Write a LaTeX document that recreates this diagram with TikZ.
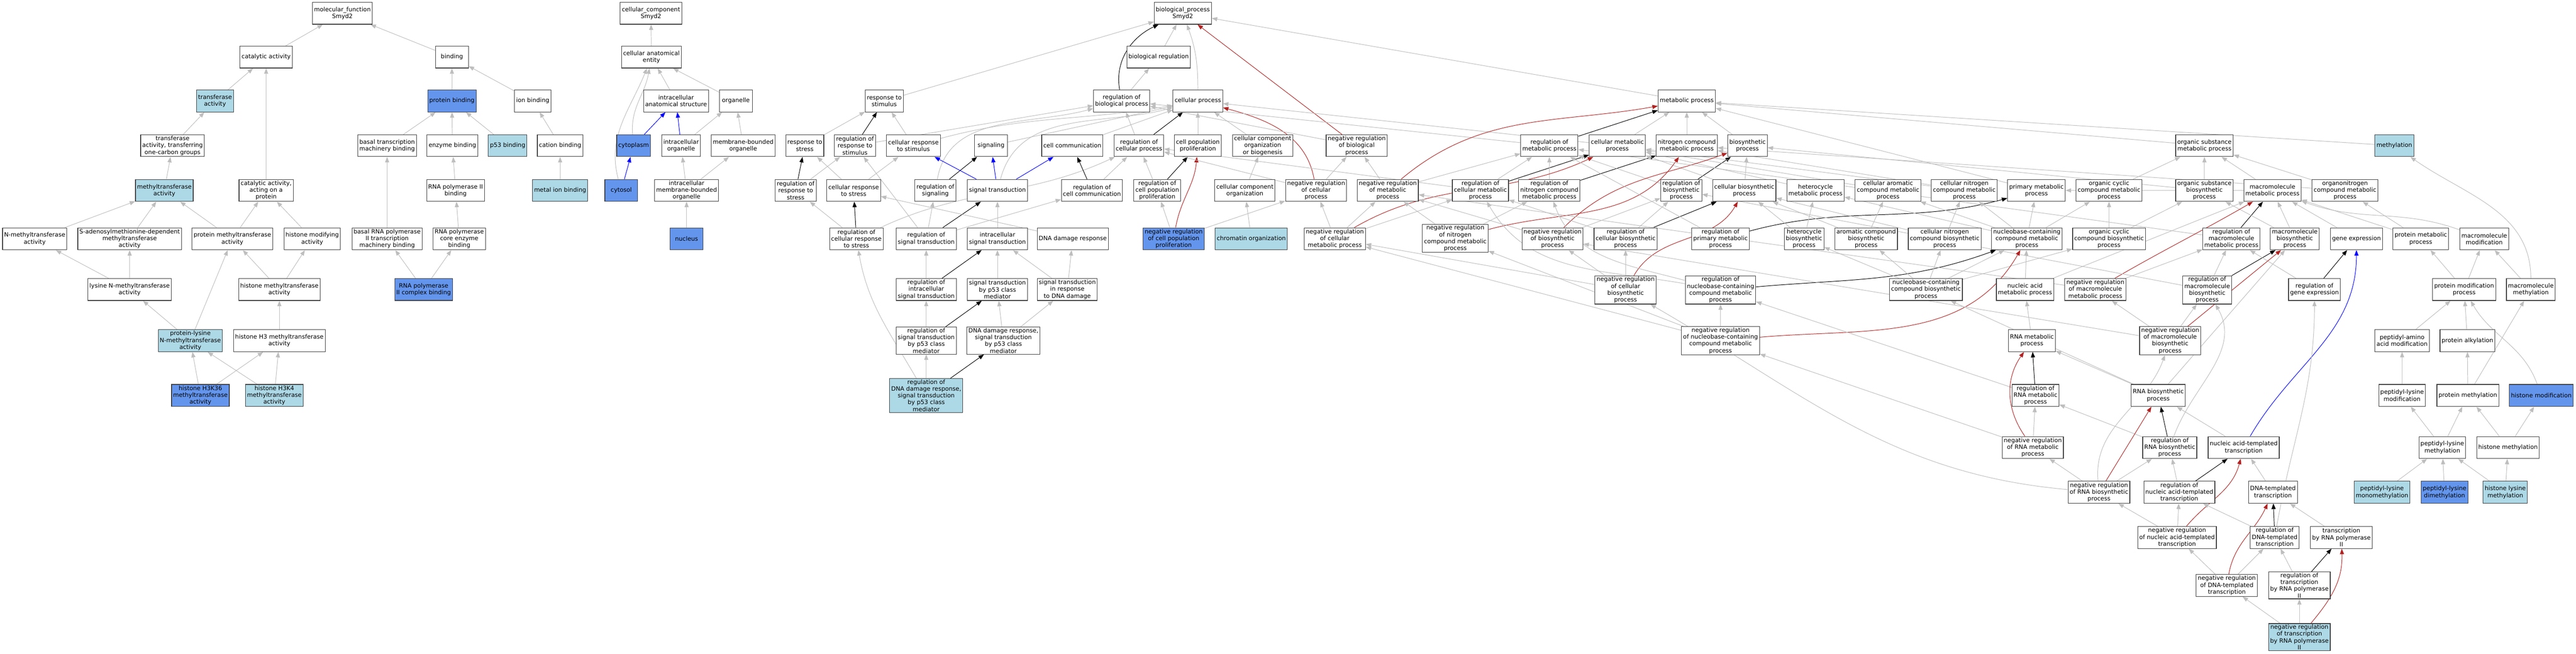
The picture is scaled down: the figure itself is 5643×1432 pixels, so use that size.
\documentclass[tikz,border=0pt]{standalone}
\usepackage{fontspec}
\setmainfont{DejaVu Sans}
\usetikzlibrary{arrows.meta, positioning, backgrounds}
\definecolor{Hit}{RGB}{100, 149, 237}
\definecolor{Near}{RGB}{173, 216, 230}
\definecolor{EdgeGray}{RGB}{190, 190, 190}
\definecolor{NegReg}{RGB}{178, 34, 34}

\begin{document}
\begin{tikzpicture}[x=1pt, y=1pt,
    gobox/.style={draw=black!75, line width=1.3pt, fill=white, font=\fontsize{13}{15}\selectfont,
        align=center, inner xsep=3.5pt, inner ysep=2pt, minimum width=72pt, minimum height=48pt},
    gohit/.style={gobox, fill=Hit},
    gonear/.style={gobox, fill=Near},
    isa/.style={draw=EdgeGray, line width=1.1pt, -{Triangle[length=12pt, width=9pt]}},
    posreg/.style={isa, draw=black},
    negreg/.style={isa, draw=NegReg},
    partof/.style={isa, draw=blue}]
    \useasboundingbox (0,0) rectangle (5643,-1432);

    % molecular function
    \node[gobox] (mf) at (750,-29) {molecular\_function\\Smyd2};
    \node[gobox] (catact) at (583,-125) {catalytic activity};
    \node[gonear] (transf) at (471,-221) {transferase\\activity};
    \node[gobox] (onecarb) at (378,-319) {transferase\\activity, transferring\\one-carbon groups};
    \node[gonear] (methyl) at (360,-417) {methyltransferase\\activity};
    \node[gobox] (catprot) at (583,-417) {catalytic activity,\\acting on a\\protein};
    \node[gobox] (nmeth) at (76,-523) {N-methyltransferase\\activity};
    \node[gobox] (sadeno) at (284,-523) {S-adenosylmethionine-dependent\\methyltransferase\\activity};
    \node[gobox] (protmeth) at (509,-523) {protein methyltransferase\\activity};
    \node[gobox] (histmod) at (684,-523) {histone modifying\\activity};
    \node[gobox] (lysmeth) at (284,-634) {lysine N-methyltransferase\\activity};
    \node[gobox] (histmeth) at (612,-634) {histone methyltransferase\\activity};
    \node[gonear] (plysmeth) at (417,-746) {protein-lysine\\N-methyltransferase\\activity};
    \node[gobox] (h3meth) at (612,-746) {histone H3 methyltransferase\\activity};
    \node[gohit] (h3k36) at (439,-866) {histone H3K36\\methyltransferase\\activity};
    \node[gonear] (h3k4) at (601,-866) {histone H3K4\\methyltransferase\\activity};
    \node[gobox] (bind) at (990,-125) {binding};
    \node[gohit] (protbind) at (990,-221) {protein binding};
    \node[gobox] (ionbind) at (1167,-221) {ion binding};
    \node[gobox] (basaltm) at (848,-319) {basal transcription\\machinery binding};
    \node[gobox] (enzbind) at (991,-319) {enzyme binding};
    \node[gonear] (p53bind) at (1112,-319) {p53 binding};
    \node[gobox] (catbind) at (1227,-319) {cation binding};
    \node[gobox] (pol2bind) at (998,-417) {RNA polymerase II\\binding};
    \node[gonear] (metalbind) at (1227,-417) {metal ion binding};
    \node[gobox] (basalpol2) at (848,-523) {basal RNA polymerase\\II transcription\\machinery binding};
    \node[gobox] (corebind) at (1006,-523) {RNA polymerase\\core enzyme\\binding};
    \node[gohit] (pol2cplx) at (928,-634) {RNA polymerase\\II complex binding};

    % cellular component
    \node[gobox] (cc) at (1426,-29) {cellular\_component\\Smyd2};
    \node[gobox] (cae) at (1427,-125) {cellular anatomical\\entity};
    \node[gobox] (ias) at (1481,-221) {intracellular\\anatomical structure};
    \node[gobox] (organelle) at (1612,-221) {organelle};
    \node[gohit] (cytoplasm) at (1388,-319) {cytoplasm};
    \node[gobox] (intorg) at (1492,-319) {intracellular\\organelle};
    \node[gobox] (mborg) at (1628,-319) {membrane-bounded\\organelle};
    \node[gohit] (cytosol) at (1361,-417) {cytosol};
    \node[gobox] (imborg) at (1504,-417) {intracellular\\membrane-bounded\\organelle};
    \node[gohit] (nucleus) at (1504,-523) {nucleus};

    % biological process
    \node[gobox] (bp) at (2591,-29) {biological\_process\\Smyd2};
    \node[gobox] (bioreg) at (2538,-125) {biological regulation};
    \node[gobox] (respstim) at (1937,-221) {response to\\stimulus};
    \node[gobox] (regbp) at (2457,-221) {regulation of\\biological process};
    \node[gobox] (cellproc) at (2624,-221) {cellular process};
    \node[gobox] (metproc) at (3695,-221) {metabolic process};

    \node[gobox] (respstress) at (1763,-319) {response to\\stress};
    \node[gobox] (regrespstim) at (1873,-319) {regulation of\\response to\\stimulus};
    \node[gobox] (cellrespstim) at (2001,-319) {cellular response\\to stimulus};
    \node[gobox] (signaling) at (2171,-319) {signaling};
    \node[gobox] (cellcomm) at (2349,-319) {cell communication};
    \node[gobox] (regcellproc) at (2495,-319) {regulation of\\cellular process};
    \node[gobox] (cellpop) at (2624,-319) {cell population\\proliferation};
    \node[gobox] (ccob) at (2766,-319) {cellular component\\organization\\or biogenesis};
    \node[gobox] (negregbp) at (2972,-319) {negative regulation\\of biological\\process};
    \node[gobox] (regmet) at (3394,-319) {regulation of\\metabolic process};
    \node[gobox] (cellmet) at (3543,-319) {cellular metabolic\\process};
    \node[gobox] (nitromet) at (3695,-319) {nitrogen compound\\metabolic process};
    \node[gobox] (biosyn) at (3828,-319) {biosynthetic\\process};
    \node[gobox] (orgsubmet) at (4829,-319) {organic substance\\metabolic process};
    \node[gonear] (methylation) at (5245,-319) {methylation};

    \node[gobox] (regrespstress) at (1743,-417) {regulation of\\response to\\stress};
    \node[gobox] (cellrespstress) at (1870,-417) {cellular response\\to stress};
    \node[gobox] (regsignaling) at (2049,-417) {regulation of\\signaling};
    \node[gobox] (sigtrans) at (2185,-417) {signal transduction};
    \node[gobox] (regcellcomm) at (2392,-417) {regulation of\\cell communication};
    \node[gobox] (regcellpop) at (2535,-417) {regulation of\\cell population\\proliferation};
    \node[gobox] (cco) at (2727,-417) {cellular component\\organization};
    \node[gobox] (negregcp) at (2883,-417) {negative regulation\\of cellular\\process};
    \node[gobox] (negregmet) at (3040,-417) {negative regulation\\of metabolic\\process};
    \node[gobox] (regcellmet) at (3243,-417) {regulation of\\cellular metabolic\\process};
    \node[gobox] (regnitro) at (3394,-417) {regulation of\\nitrogen compound\\metabolic process};
    \node[gobox] (regbiosyn) at (3683,-417) {regulation of\\biosynthetic\\process};
    \node[gobox] (cellbiosyn) at (3821,-417) {cellular biosynthetic\\process};
    \node[gobox] (hetmet) at (3977,-417) {heterocycle\\metabolic process};
    \node[gobox] (aromet) at (4136,-417) {cellular aromatic\\compound metabolic\\process};
    \node[gobox] (cnmet) at (4303,-417) {cellular nitrogen\\compound metabolic\\process};
    \node[gobox] (primet) at (4461,-417) {primary metabolic\\process};
    \node[gobox] (ocmet) at (4620,-417) {organic cyclic\\compound metabolic\\process};
    \node[gobox] (osbiosyn) at (4829,-417) {organic substance\\biosynthetic\\process};
    \node[gobox] (macromet) at (4978,-417) {macromolecule\\metabolic process};
    \node[gobox] (onmet) at (5137,-417) {organonitrogen\\compound metabolic\\process};

    \node[gobox] (regcellrespstress) at (1876,-523) {regulation of\\cellular response\\to stress};
    \node[gobox] (regsigtrans) at (2029,-523) {regulation of\\signal transduction};
    \node[gobox] (intsig) at (2185,-523) {intracellular\\signal transduction};
    \node[gobox] (dnadmg) at (2350,-523) {DNA damage response};
    \node[gohit] (negregpop) at (2571,-523) {negative regulation\\of cell population\\proliferation};
    \node[gonear] (chromorg) at (2741,-523) {chromatin organization};
    \node[gobox] (negregcellmet) at (2924,-523) {negative regulation\\of cellular\\metabolic process};
    \node[gobox] (negregnitro) at (3188,-522) {negative regulation\\of nitrogen\\compound metabolic\\process};
    \node[gobox] (negregbiosyn) at (3401,-523) {negative regulation\\of biosynthetic\\process};
    \node[gobox] (regcellbiosyn) at (3561,-523) {regulation of\\cellular biosynthetic\\process};
    \node[gobox] (regprimet) at (3769,-523) {regulation of\\primary metabolic\\process};
    \node[gobox] (hetbiosyn) at (3952,-523) {heterocycle\\biosynthetic\\process};
    \node[gobox] (arobiosyn) at (4088,-523) {aromatic compound\\biosynthetic\\process};
    \node[gobox] (cnbiosyn) at (4260,-523) {cellular nitrogen\\compound biosynthetic\\process};
    \node[gobox] (nbmet) at (4440,-523) {nucleobase-containing\\compound metabolic\\process};
    \node[gobox] (ocbiosyn) at (4620,-523) {organic cyclic\\compound biosynthetic\\process};
    \node[gobox] (regmacromet) at (4888,-523) {regulation of\\macromolecule\\metabolic process};
    \node[gobox] (macrobiosyn) at (5027,-523) {macromolecule\\biosynthetic\\process};
    \node[gobox] (geneexp) at (5162,-523) {gene expression};
    \node[gobox] (protmet) at (5303,-523) {protein metabolic\\process};
    \node[gobox] (macromod) at (5442,-523) {macromolecule\\modification};

    \node[gobox] (regintsig) at (2029,-634) {regulation of\\intracellular\\signal transduction};
    \node[gobox] (p53sig) at (2185,-634) {signal transduction\\by p53 class\\mediator};
    \node[gobox] (dnasig) at (2338,-634) {signal transduction\\in response\\to DNA damage};
    \node[gobox] (negregcellbiosyn) at (3561,-635) {negative regulation\\of cellular\\biosynthetic\\process};
    \node[gobox] (regnbmet) at (3769,-635) {regulation of\\nucleobase-containing\\compound metabolic\\process};
    \node[gobox] (nbbiosyn) at (4219,-634) {nucleobase-containing\\compound biosynthetic\\process};
    \node[gobox] (nucmet) at (4436,-634) {nucleic acid\\metabolic process};
    \node[gobox] (negregmacromet) at (4590,-634) {negative regulation\\of macromolecule\\metabolic process};
    \node[gobox] (regmacrobiosyn) at (4835,-635) {regulation of\\macromolecule\\biosynthetic\\process};
    \node[gobox] (reggeneexp) at (5070,-634) {regulation of\\gene expression};
    \node[gobox] (protmod) at (5398,-634) {protein modification\\process};
    \node[gobox] (macromethyl) at (5544,-634) {macromolecule\\methylation};

    \node[gobox] (regp53sig) at (2029,-746) {regulation of\\signal transduction\\by p53 class\\mediator};
    \node[gobox] (dnap53sig) at (2198,-746) {DNA damage response,\\signal transduction\\by p53 class\\mediator};
    \node[gobox] (negregnbmet) at (3769,-746) {negative regulation\\of nucleobase-containing\\compound metabolic\\process};
    \node[gobox] (rnamet) at (4451,-746) {RNA metabolic\\process};
    \node[gobox] (negregmacrobiosyn) at (4754,-746) {negative regulation\\of macromolecule\\biosynthetic\\process};
    \node[gobox] (pepaa) at (5262,-746) {peptidyl-amino\\acid modification};
    \node[gobox] (protalk) at (5405,-746) {protein alkylation};

    \node[gonear] (regdnap53) at (2029,-866) {regulation of\\DNA damage response,\\signal transduction\\by p53 class\\mediator};
    \node[gobox] (regrnamet) at (4459,-866) {regulation of\\RNA metabolic\\process};
    \node[gobox] (rnabiosyn) at (4728,-866) {RNA biosynthetic\\process};
    \node[gobox] (peplysmod) at (5262,-866) {peptidyl-lysine\\modification};
    \node[gobox] (protmethyl) at (5406,-866) {protein methylation};
    \node[gohit] (histmodif) at (5567,-866) {histone modification};

    \node[gobox] (negregrnamet) at (4453,-980) {negative regulation\\of RNA metabolic\\process};
    \node[gobox] (regrnabiosyn) at (4753,-980) {regulation of\\RNA biosynthetic\\process};
    \node[gobox] (natrans) at (4915,-980) {nucleic acid-templated\\transcription};
    \node[gobox] (peplysmeth) at (5350,-980) {peptidyl-lysine\\methylation};
    \node[gobox] (histmethyl) at (5494,-980) {histone methylation};

    \node[gobox] (negregrnabiosyn) at (4598,-1078) {negative regulation\\of RNA biosynthetic\\process};
    \node[gobox] (regnatrans) at (4774,-1078) {regulation of\\nucleic acid-templated\\transcription};
    \node[gobox] (dnatrans) at (4979,-1078) {DNA-templated\\transcription};
    \node[gonear] (monometh) at (5218,-1078) {peptidyl-lysine\\monomethylation};
    \node[gohit] (dimeth) at (5355,-1078) {peptidyl-lysine\\dimethylation};
    \node[gonear] (hlysmeth) at (5488,-1078) {histone lysine\\methylation};

    \node[gobox] (negregnatrans) at (4769,-1177) {negative regulation\\of nucleic acid-templated\\transcription};
    \node[gobox] (regdnatrans) at (4983,-1177) {regulation of\\DNA-templated\\transcription};
    \node[gobox] (pol2trans) at (5129,-1177) {transcription\\by RNA polymerase\\II};
    \node[gobox] (negregdnatrans) at (4878,-1282) {negative regulation\\of DNA-templated\\transcription};
    \node[gobox] (regpol2trans) at (5037,-1282) {regulation of\\transcription\\by RNA polymerase\\II};
    \node[gonear] (negregpol2trans) at (5037,-1395) {negative regulation\\of transcription\\by RNA polymerase\\II};

    \begin{scope}[on background layer]
    \fill[white] (0,0) rectangle (5643,-1432);
    % molecular function edges
    \draw[isa] (catact) -- (mf);
    \draw[isa] (bind) -- (mf);
    \draw[isa] (transf) -- (catact);
    \draw[isa] (catprot) -- (catact);
    \draw[isa] (onecarb) -- (transf);
    \draw[isa] (methyl) -- (onecarb);
    \draw[isa] (nmeth) -- (methyl);
    \draw[isa] (sadeno) -- (methyl);
    \draw[isa] (protmeth) -- (methyl);
    \draw[isa] (protmeth) -- (catprot);
    \draw[isa] (histmod) -- (catprot);
    \draw[isa] (lysmeth) -- (nmeth);
    \draw[isa] (lysmeth) -- (sadeno);
    \draw[isa] (histmeth) -- (protmeth);
    \draw[isa] (histmeth) -- (histmod);
    \draw[isa] (plysmeth) -- (lysmeth);
    \draw[isa] (plysmeth) -- (protmeth);
    \draw[isa] (h3meth) -- (histmeth);
    \draw[isa] (h3k36) -- (plysmeth);
    \draw[isa] (h3k36) -- (h3meth);
    \draw[isa] (h3k4) -- (plysmeth);
    \draw[isa] (h3k4) -- (h3meth);
    \draw[isa] (protbind) -- (bind);
    \draw[isa] (ionbind) -- (bind);
    \draw[isa] (basaltm) -- (protbind);
    \draw[isa] (enzbind) -- (protbind);
    \draw[isa] (p53bind) -- (protbind);
    \draw[isa] (catbind) -- (ionbind);
    \draw[isa] (metalbind) -- (catbind);
    \draw[isa] (pol2bind) -- (enzbind);
    \draw[isa] (basalpol2) -- (basaltm);
    \draw[isa] (corebind) -- (pol2bind);
    \draw[isa] (pol2cplx) -- (basalpol2);
    \draw[isa] (pol2cplx) -- (corebind);
    % cellular component edges
    \draw[isa] (cae) -- (cc);
    \draw[isa] (cytoplasm) to[out=95, in=-100] (cae);
    \draw[isa] (cytosol) to[out=105, in=-112] (cae);
    \draw[isa] (ias) -- (cae);
    \draw[isa] (organelle) -- (cae);
    \draw[partof] (cytoplasm) -- (ias);
    \draw[partof] (intorg) -- (ias);
    \draw[isa] (intorg) -- (organelle);
    \draw[isa] (mborg) -- (organelle);
    \draw[partof] (cytosol) -- (cytoplasm);
    \draw[isa] (imborg) -- (intorg);
    \draw[isa] (imborg) -- (mborg);
    \draw[isa] (nucleus) -- (imborg);
    % biological process edges
    \draw[isa] (respstim) -- (bp);
    \draw[isa] (bioreg) -- (bp);
    \draw[posreg] (regbp) to[out=100, in=205] (bp);
    \draw[isa] (cellproc) to[out=90, in=-70] (bp);
    \draw[isa] (metproc) -- (bp);
    \draw[negreg] (negregbp) -- (bp);
    \draw[isa] (regbp) -- (bioreg);
    \draw[posreg] (regrespstim) -- (respstim);
    \draw[isa] (regrespstim) -- (regbp);
    \draw[isa] (cellrespstim) -- (respstim);
    \draw[isa] (cellrespstim) to[out=15, in=190] (cellproc);
    \draw[isa] (respstress) -- (respstim);
    \draw[posreg] (regrespstress) -- (respstress);
    \draw[isa] (regrespstress) -- (regrespstim);
    \draw[isa] (cellrespstress) -- (respstress);
    \draw[isa] (cellrespstress) -- (cellrespstim);
    \draw[isa] (regcellrespstress) -- (regrespstress);
    \draw[posreg] (regcellrespstress) -- (cellrespstress);
    \draw[isa] (regcellrespstress) to[out=25, in=205] (regcellproc);
    \draw[isa] (signaling) -- (cellproc);
    \draw[posreg] (regsignaling) -- (signaling);
    \draw[isa] (regsignaling) to[out=80, in=195] (regbp);
    \draw[partof] (sigtrans) -- (cellrespstim);
    \draw[partof] (sigtrans) -- (signaling);
    \draw[partof] (sigtrans) -- (cellcomm);
    \draw[isa] (sigtrans) to[out=75, in=195] (cellproc);
    \draw[isa] (cellcomm) -- (cellproc);
    \draw[posreg] (regcellcomm) -- (cellcomm);
    \draw[isa] (regcellcomm) -- (regcellproc);
    \draw[isa] (regcellproc) -- (regbp);
    \draw[posreg] (regcellproc) -- (cellproc);
    \draw[isa] (cellpop) -- (cellproc);
    \draw[isa] (regcellpop) -- (regcellproc);
    \draw[posreg] (regcellpop) -- (cellpop);
    \draw[negreg] (negregpop) to[out=80, in=-95] (cellpop);
    \draw[isa] (negregpop) -- (regcellpop);
    \draw[isa] (negregpop) -- (negregcp);
    \draw[isa] (ccob) -- (cellproc);
    \draw[isa] (cco) -- (ccob);
    \draw[isa] (chromorg) -- (cco);
    \draw[isa] (regsigtrans) -- (regsignaling);
    \draw[posreg] (regsigtrans) -- (sigtrans);
    \draw[isa] (regsigtrans) -- (regcellcomm);
    \draw[isa] (regsigtrans) -- (regrespstim);
    \draw[isa] (intsig) -- (sigtrans);
    \draw[isa] (dnadmg) -- (cellrespstress);
    \draw[isa] (regintsig) -- (regsigtrans);
    \draw[posreg] (regintsig) -- (intsig);
    \draw[isa] (p53sig) -- (intsig);
    \draw[isa] (dnasig) -- (intsig);
    \draw[isa] (dnasig) -- (dnadmg);
    \draw[isa] (regp53sig) -- (regintsig);
    \draw[posreg] (regp53sig) -- (p53sig);
    \draw[isa] (dnap53sig) -- (p53sig);
    \draw[isa] (dnap53sig) -- (dnasig);
    \draw[isa] (regdnap53) -- (regp53sig);
    \draw[posreg] (regdnap53) -- (dnap53sig);
    \draw[isa] (regdnap53) to[out=120, in=-80] (regcellrespstress);
    % metabolic edges
    \draw[negreg] (negregcp) to[out=100, in=-15] (cellproc);
    \draw[isa] (negregcp) -- (negregbp);
    \draw[isa] (negregcp) -- (regcellproc);
    \draw[isa] (negregbp) -- (regbp);
    \draw[posreg] (regmet) -- (metproc);
    \draw[isa] (regmet) -- (regbp);
    \draw[isa] (cellmet) -- (metproc);
    \draw[isa] (cellmet) -- (cellproc);
    \draw[isa] (nitromet) -- (metproc);
    \draw[isa] (biosyn) -- (metproc);
    \draw[isa] (orgsubmet) -- (metproc);
    \draw[isa] (methylation) -- (metproc);
    \draw[isa] (primet) -- (metproc);
    \draw[negreg] (negregmet) to[out=40, in=190] (metproc);
    \draw[isa] (negregmet) -- (negregbp);
    \draw[isa] (negregmet) -- (regmet);
    \draw[isa] (regcellmet) -- (regcellproc);
    \draw[isa] (regcellmet) -- (regmet);
    \draw[posreg] (regcellmet) -- (cellmet);
    \draw[isa] (regnitro) -- (regmet);
    \draw[posreg] (regnitro) -- (nitromet);
    \draw[isa] (regbiosyn) -- (regmet);
    \draw[posreg] (regbiosyn) -- (biosyn);
    \draw[isa] (cellbiosyn) -- (biosyn);
    \draw[isa] (cellbiosyn) -- (cellmet);
    \draw[isa] (hetmet) -- (cellmet);
    \draw[isa] (aromet) -- (cellmet);
    \draw[isa] (cnmet) -- (cellmet);
    \draw[isa] (cnmet) -- (nitromet);
    \draw[isa] (ocmet) -- (orgsubmet);
    \draw[isa] (osbiosyn) -- (orgsubmet);
    \draw[isa] (osbiosyn) -- (biosyn);
    \draw[isa] (macromet) -- (orgsubmet);
    \draw[isa] (macromet) -- (primet);
    \draw[isa] (onmet) -- (orgsubmet);
    \draw[isa] (onmet) -- (nitromet);
    \draw[negreg] (negregcellmet) to[out=30, in=205] (cellmet);
    \draw[isa] (negregcellmet) -- (negregcp);
    \draw[isa] (negregcellmet) -- (negregmet);
    \draw[isa] (negregcellmet) -- (regcellmet);
    \draw[negreg] (negregnitro) to[out=15, in=235] (nitromet);
    \draw[isa] (negregnitro) -- (negregmet);
    \draw[isa] (negregnitro) -- (regnitro);
    \draw[negreg] (negregbiosyn) to[out=45, in=200] (biosyn);
    \draw[isa] (negregbiosyn) -- (negregmet);
    \draw[isa] (negregbiosyn) -- (regbiosyn);
    \draw[isa] (regcellbiosyn) -- (regcellmet);
    \draw[isa] (regcellbiosyn) -- (regbiosyn);
    \draw[posreg] (regcellbiosyn) -- (cellbiosyn);
    \draw[isa] (regprimet) -- (regmet);
    \draw[posreg] (regprimet) to[out=15, in=195] (primet);
    \draw[isa] (hetbiosyn) -- (hetmet);
    \draw[isa] (hetbiosyn) -- (cellbiosyn);
    \draw[isa] (arobiosyn) -- (aromet);
    \draw[isa] (arobiosyn) -- (cellbiosyn);
    \draw[isa] (cnbiosyn) -- (cnmet);
    \draw[isa] (cnbiosyn) -- (cellbiosyn);
    \draw[isa] (nbmet) -- (hetmet);
    \draw[isa] (nbmet) -- (aromet);
    \draw[isa] (nbmet) -- (cnmet);
    \draw[isa] (nbmet) -- (primet);
    \draw[isa] (nbmet) -- (ocmet);
    \draw[isa] (ocbiosyn) -- (ocmet);
    \draw[isa] (ocbiosyn) -- (osbiosyn);
    \draw[isa] (regmacromet) -- (regmet);
    \draw[posreg] (regmacromet) -- (macromet);
    \draw[isa] (macrobiosyn) -- (macromet);
    \draw[isa] (macrobiosyn) -- (osbiosyn);
    \draw[isa] (geneexp) -- (macromet);
    \draw[isa] (protmet) -- (macromet);
    \draw[isa] (protmet) -- (onmet);
    \draw[isa] (macromod) to[out=160, in=-20] (macromet);
    \draw[negreg] (negregcellbiosyn) to[out=60, in=240] (cellbiosyn);
    \draw[isa] (negregcellbiosyn) -- (negregcellmet);
    \draw[isa] (negregcellbiosyn) -- (negregbiosyn);
    \draw[isa] (negregcellbiosyn) -- (regcellbiosyn);
    \draw[isa] (regnbmet) to[out=170, in=-60] (regcellmet);
    \draw[isa] (regnbmet) to[out=165, in=-70] (regnitro);
    \draw[posreg] (regnbmet) to[out=5, in=200] (nbmet);
    \draw[isa] (nbbiosyn) -- (hetbiosyn);
    \draw[isa] (nbbiosyn) -- (arobiosyn);
    \draw[isa] (nbbiosyn) -- (cnbiosyn);
    \draw[isa] (nbbiosyn) -- (nbmet);
    \draw[isa] (nbbiosyn) -- (ocbiosyn);
    \draw[isa] (nucmet) -- (nbmet);
    \draw[isa] (nucmet) -- (macromet);
    \draw[negreg] (negregmacromet) to[out=30, in=210] (macromet);
    \draw[isa] (negregmacromet) -- (regmacromet);
    \draw[isa] (negregmacromet) -- (negregmet);
    \draw[isa] (regmacrobiosyn) -- (regmacromet);
    \draw[isa] (regmacrobiosyn) -- (regbiosyn);
    \draw[posreg] (regmacrobiosyn) -- (macrobiosyn);
    \draw[isa] (reggeneexp) -- (regmacromet);
    \draw[posreg] (reggeneexp) -- (geneexp);
    \draw[isa] (protmod) -- (protmet);
    \draw[isa] (protmod) -- (macromod);
    \draw[isa] (macromethyl) -- (macromod);
    \draw[isa] (macromethyl) to[out=90, in=-35] (methylation);
    \draw[negreg] (negregnbmet) to[out=5, in=240] (nbmet);
    \draw[isa] (negregnbmet) -- (regnbmet);
    \draw[isa] (negregnbmet) -- (negregcellmet);
    \draw[isa] (negregnbmet) -- (negregnitro);
    \draw[isa] (rnamet) -- (nucmet);
    \draw[negreg] (negregmacrobiosyn) -- (macrobiosyn);
    \draw[isa] (negregmacrobiosyn) -- (regmacrobiosyn);
    \draw[isa] (negregmacrobiosyn) -- (negregmacromet);
    \draw[isa] (negregmacrobiosyn) -- (negregbiosyn);
    \draw[isa] (pepaa) -- (protmod);
    \draw[isa] (protalk) -- (protmod);
    \draw[posreg] (regrnamet) -- (rnamet);
    \draw[isa] (regrnamet) -- (regnbmet);
    \draw[isa] (rnabiosyn) -- (rnamet);
    \draw[isa] (rnabiosyn) -- (nbbiosyn);
    \draw[isa] (rnabiosyn) -- (macrobiosyn);
    \draw[isa] (peplysmod) -- (pepaa);
    \draw[isa] (protmethyl) -- (protalk);
    \draw[isa] (protmethyl) -- (macromethyl);
    \draw[isa] (histmodif) to[out=110, in=-60] (protmod);
    \draw[negreg] (negregrnamet) to[out=125, in=235] (rnamet);
    \draw[isa] (negregrnamet) -- (regrnamet);
    \draw[isa] (negregrnamet) -- (negregnbmet);
    \draw[posreg] (regrnabiosyn) -- (rnabiosyn);
    \draw[isa] (regrnabiosyn) -- (regrnamet);
    \draw[isa] (regrnabiosyn) to[out=70, in=-60] (regmacrobiosyn);
    \draw[isa] (natrans) -- (rnabiosyn);
    \draw[partof] (natrans) to[out=60, in=-90] (geneexp);
    \draw[isa] (peplysmeth) -- (peplysmod);
    \draw[isa] (peplysmeth) -- (protmethyl);
    \draw[isa] (histmethyl) -- (protmethyl);
    \draw[isa] (histmethyl) -- (histmodif);
    \draw[isa] (negregrnabiosyn) -- (negregrnamet);
    \draw[isa] (negregrnabiosyn) -- (regrnabiosyn);
    \draw[isa] (negregrnabiosyn) to[out=95, in=-110] (negregmacrobiosyn);
    \draw[isa] (negregrnabiosyn) to[out=175, in=-30] (negregcellbiosyn);
    \draw[negreg] (negregrnabiosyn) -- (rnabiosyn);
    \draw[isa] (regnatrans) -- (regrnabiosyn);
    \draw[posreg] (regnatrans) -- (natrans);
    \draw[isa] (dnatrans) -- (natrans);
    \draw[isa] (monometh) -- (peplysmeth);
    \draw[isa] (dimeth) -- (peplysmeth);
    \draw[isa] (hlysmeth) -- (peplysmeth);
    \draw[isa] (hlysmeth) -- (histmethyl);
    \draw[isa] (negregnatrans) -- (regnatrans);
    \draw[isa] (negregnatrans) -- (negregrnabiosyn);
    \draw[negreg] (negregnatrans) to[out=50, in=-105] (natrans);
    \draw[isa] (regdnatrans) -- (regnatrans);
    \draw[posreg] (regdnatrans) -- (dnatrans);
    \draw[isa] (regdnatrans) to[out=80, in=-90] (reggeneexp);
    \draw[isa] (pol2trans) -- (dnatrans);
    \draw[isa] (negregdnatrans) -- (negregnatrans);
    \draw[isa] (negregdnatrans) -- (regdnatrans);
    \draw[negreg] (negregdnatrans) to[out=80, in=-115] (dnatrans);
    \draw[isa] (regpol2trans) -- (regdnatrans);
    \draw[posreg] (regpol2trans) -- (pol2trans);
    \draw[isa] (negregpol2trans) -- (negregdnatrans);
    \draw[isa] (negregpol2trans) -- (regpol2trans);
    \draw[negreg] (negregpol2trans) to[out=50, in=-88] (pol2trans);
    \end{scope}
\end{tikzpicture}
\end{document}
